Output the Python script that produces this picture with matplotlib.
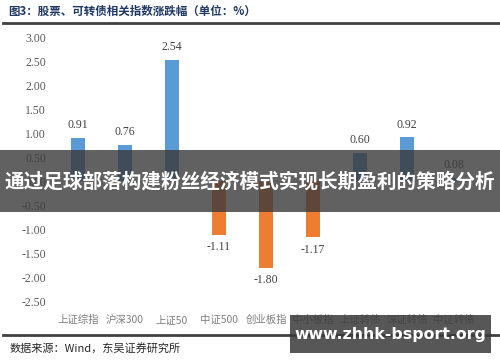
import matplotlib
matplotlib.use("Agg")
import matplotlib.pyplot as plt
from matplotlib.patches import Rectangle

categories = ["上证综指", "沪深300", "上证50", "中证500", "创业板指", "中小板指", "上证转债", "深证转债", "中证转债"]
values = [0.91, 0.76, 2.54, -1.11, -1.80, -1.17, 0.60, 0.92, 0.08]
yticks = [3.0, 2.5, 2.0, 1.5, 1.0, 0.5, 0.0, -0.5, -1.0, -1.5, -2.0, -2.5]

title = "图3：股票、可转债相关指数涨跌幅（单位：%）"
source = "数据来源：Wind，东吴证券研究所"
banner = "通过足球部落构建粉丝经济模式实现长期盈利的策略分析"
watermark = "www.zhhk-bsport.org"

BLUE = "#5B9BD5"
ORANGE = "#ED7D31"
CJK = ["Noto Sans CJK SC", "DejaVu Sans"]
SERIF = ["Liberation Serif", "Noto Sans CJK SC"]

W, H = 500, 362
fig = plt.figure(figsize=(5.0, 3.62), dpi=100)
fig.patch.set_facecolor("white")

ax = fig.add_axes([54.5 / W, 1 - 301 / H, (477.5 - 54.5) / W, (301 - 38) / H])
x = list(range(len(categories)))
colors = [BLUE if v >= 0 else ORANGE for v in values]
ax.bar(x, values, width=0.3, color=colors, zorder=2)
ax.set_xlim(-0.5, len(categories) - 0.5)
ax.set_ylim(-2.5, 3.0)
ax.set_yticks(yticks)
ax.set_yticklabels([f"{t:.2f}" for t in yticks], family=SERIF, fontsize=8.5, color="#595959")
ax.set_xticks(x)
ax.set_xticklabels(categories, family=CJK, fontsize=7.5, color="#7f7f7f")
ax.tick_params(length=0, pad=6)
ax.tick_params(axis="x", pad=10)
for s in ax.spines.values():
    s.set_visible(False)
ax.axhline(0, color="#d9d9d9", lw=0.8, zorder=1)

for xi, v in zip(x, values):
    if v >= 0:
        ax.annotate(f"{v:.2f}", (xi, v), xytext=(0, 5), textcoords="offset points",
                    ha="center", va="bottom", family=SERIF, fontsize=8.5, color="#404040")
    else:
        ax.annotate(f"{v:.2f}", (xi, v), xytext=(0, -5), textcoords="offset points",
                    ha="center", va="top", family=SERIF, fontsize=8.5, color="#404040")

# title and rules
fig.text(8 / W, 1 - 11 / H, title, family=CJK, fontsize=8.3, fontweight="bold",
         color="#1F3864", ha="left", va="center")
fig.add_artist(plt.Line2D([3 / W, 1], [1 - 23 / H, 1 - 23 / H], color="#404040", lw=2))
fig.add_artist(plt.Line2D([3 / W, 1], [1 - 335 / H, 1 - 335 / H], color="#404040", lw=2))
fig.text(10 / W, 1 - 348 / H, source, family=CJK, fontsize=8, color="#262626",
         ha="left", va="center")

# banner overlay
fig.add_artist(Rectangle((0, 1 - 212 / H), 1, 62 / H, transform=fig.transFigure,
                         facecolor="#3a3a3a", alpha=0.8, edgecolor="none", zorder=10))
fig.text(0.5, 1 - 182 / H, banner, family=CJK, fontsize=14.1, fontweight="bold",
         color="white", ha="center", va="center", zorder=11)

# watermark box
fig.add_artist(Rectangle((290 / W, 1 - 353 / H), 201 / W, 38 / H, transform=fig.transFigure,
                         facecolor="#3a3a3a", alpha=0.85, edgecolor="none", zorder=10))
fig.text(390 / W, 1 - 334 / H, watermark, family=["DejaVu Sans"], fontsize=11.3, fontweight="bold",
         color="white", ha="center", va="center", zorder=11)

fig.savefig("out.png", dpi=100, facecolor="white")
